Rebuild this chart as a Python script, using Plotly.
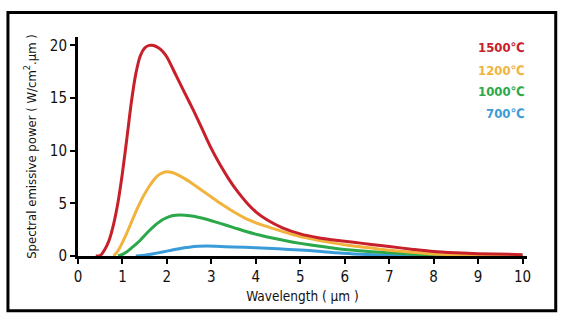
import plotly.graph_objects as go

# ---- data ----
red_x = [0.4, 0.5, 0.6, 0.7, 0.8, 0.9, 1.0, 1.1, 1.2, 1.3, 1.4, 1.5, 1.6, 1.7, 1.8, 1.9, 2.0, 2.2, 2.4, 2.6, 2.8, 3.0, 3.2, 3.4, 3.6, 3.8, 4.0, 4.25, 4.6, 5.0, 5.4, 5.8, 6.2, 6.6, 7.0, 7.5, 8.0, 8.5, 9.0, 10.0]
red_y = [0.0, 0.05, 0.6, 1.5, 3.0, 5.1, 7.9, 11.2, 14.6, 17.3, 19.0, 19.75, 20.0, 20.0, 19.8, 19.45, 18.9, 17.2, 15.5, 13.8, 12.0, 10.2, 8.64, 7.26, 6.06, 5.04, 4.2, 3.45, 2.68, 2.1, 1.74, 1.5, 1.3, 1.1, 0.9, 0.65, 0.42, 0.3, 0.22, 0.13]

yel_x = [0.8, 0.9, 1.0, 1.1, 1.2, 1.3, 1.4, 1.5, 1.6, 1.7, 1.8, 1.9, 2.0, 2.1, 2.2, 2.4, 2.6, 2.8, 3.0, 3.2, 3.5, 3.8, 4.1, 4.4, 4.7, 5.0, 5.4, 5.8, 6.2, 6.6, 7.0, 7.5, 8.0, 9.0, 10.0]
yel_y = [0.0, 0.5, 1.3, 2.2, 3.2, 4.2, 5.1, 5.9, 6.6, 7.2, 7.65, 7.9, 8.0, 7.95, 7.8, 7.35, 6.8, 6.2, 5.6, 5.0, 4.2, 3.5, 3.0, 2.6, 2.2, 1.85, 1.5, 1.2, 0.95, 0.75, 0.55, 0.35, 0.2, 0.08, 0.03]

grn_x = [0.9, 1.0, 1.1, 1.2, 1.3, 1.4, 1.5, 1.6, 1.7, 1.8, 1.9, 2.0, 2.1, 2.2, 2.3, 2.4, 2.6, 2.8, 3.0, 3.2, 3.5, 3.8, 4.1, 4.4, 4.7, 5.0, 5.4, 5.8, 6.2, 6.6, 7.0, 7.5, 8.0, 9.0, 10.0]
grn_y = [0.0, 0.15, 0.4, 0.75, 1.1, 1.5, 1.95, 2.4, 2.8, 3.15, 3.45, 3.65, 3.8, 3.87, 3.9, 3.88, 3.78, 3.58, 3.35, 3.1, 2.7, 2.3, 1.97, 1.68, 1.42, 1.2, 0.95, 0.72, 0.54, 0.4, 0.3, 0.18, 0.1, 0.04, 0.02]

blu_x = [1.3, 1.5, 1.7, 1.9, 2.1, 2.3, 2.5, 2.7, 2.9, 3.1, 3.5, 4.0, 4.5, 5.0, 5.4, 5.8, 6.2, 6.8, 7.5, 8.5, 10.0]
blu_y = [0.0, 0.08, 0.22, 0.38, 0.55, 0.72, 0.84, 0.92, 0.94, 0.92, 0.86, 0.78, 0.68, 0.57, 0.45, 0.3, 0.2, 0.1, 0.05, 0.02, 0.01]

series_labels = ["1500℃", "1200℃", "1000℃", "700℃"]
label_y = [19.84, 17.63, 15.67, 13.53]
x_ticks = list(range(0, 11))
y_ticks = [0, 5, 10, 15, 20]

colors = ["#c8202a", "#f2b33d", "#2ba84a", "#3a9bd9"]
FONT = "Liberation Sans Narrow, DejaVu Sans Condensed, sans-serif"

fig = go.Figure()
for xs, ys, c, name in zip([blu_x, grn_x, yel_x, red_x],
                           [blu_y, grn_y, yel_y, red_y],
                           colors[::-1], series_labels[::-1]):
    fig.add_trace(go.Scatter(x=xs, y=ys, mode="lines", name=name,
                             line=dict(color=c, width=3, shape="spline", smoothing=0.7),
                             showlegend=False, hoverinfo="skip"))

for lab, ly, c in zip(series_labels, label_y, colors):
    fig.add_annotation(x=10.0, y=ly, xref="x", yref="y", text="<b>%s</b>" % lab,
                       showarrow=False, xanchor="right", yanchor="middle", xshift=4,
                       font=dict(family=FONT, size=13, color=c))

# frame around the figure
fig.add_shape(type="rect", xref="paper", yref="paper",
              x0=-0.156, x1=1.064, y0=-0.25, y1=1.112,
              line=dict(color="black", width=3), fillcolor="rgba(0,0,0,0)")

fig.update_layout(
    width=565, height=323,
    margin=dict(l=78, r=37.5, t=36.6, b=67),
    paper_bgcolor="white", plot_bgcolor="white",
    font=dict(family=FONT, size=14, color="#111"),
    xaxis=dict(range=[0, 10.1], tickvals=x_ticks, ticks="outside", ticklen=5, tickwidth=2,
               tickcolor="black", showline=True, linewidth=3, linecolor="black",
               showgrid=False, zeroline=False,
               title=dict(text="Wavelength ( µm )", standoff=7, font=dict(size=13.5)),
               tickfont=dict(size=15)),
    yaxis=dict(range=[0, 20.8], tickvals=y_ticks, ticks="outside", ticklen=5, tickwidth=2,
               tickcolor="black", showline=True, linewidth=3, linecolor="black",
               showgrid=False, zeroline=False,
               title=dict(text="Spectral emissive power ( W/cm<sup>2</sup>.µm )", standoff=11,
                          font=dict(size=13)),
               tickfont=dict(size=15)),
)

fig.write_html("out.html")
